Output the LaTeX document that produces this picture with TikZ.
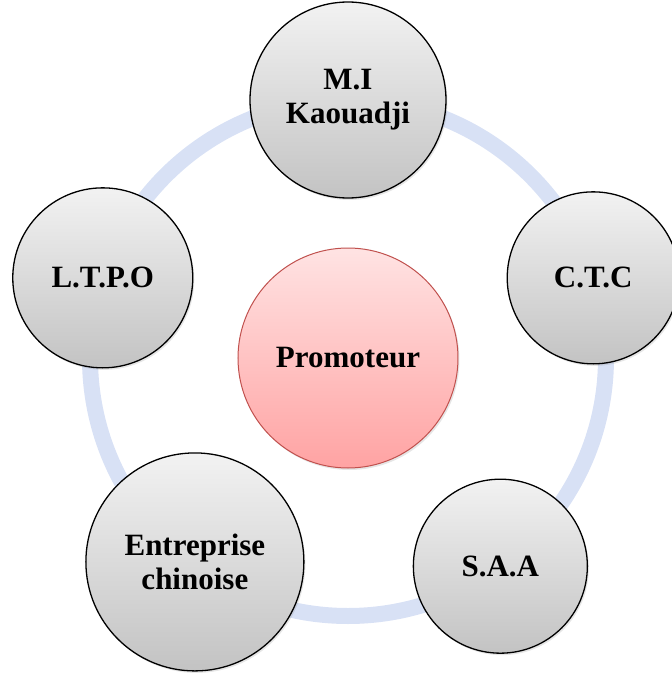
\documentclass[tikz,border=0pt]{standalone}
\usepackage{fontspec}
\setmainfont{Liberation Serif}
\usetikzlibrary{shadows}
\definecolor{cring}{HTML}{D8E1F5}
\definecolor{cgreytop}{HTML}{F2F2F2}
\definecolor{cgreybot}{HTML}{C3C3C3}
\definecolor{cpinktop}{HTML}{FFE3E3}
\definecolor{cpinkbot}{HTML}{FFA3A3}
\definecolor{cpinkline}{HTML}{C0504D}
\tikzset{
  every picture/.style={x=1pt, y=1pt},
  actor/.style={circle, draw=black, line width=1.3pt, top color=cgreytop, bottom color=cgreybot,
    align=center, inner sep=0pt, minimum size=#1, font=\fontsize{31}{34}\selectfont\bfseries,
    drop shadow={opacity=0.2, shadow xshift=1.5pt, shadow yshift=-2pt}},
  hub/.style={actor=#1, draw=cpinkline, line width=1pt, top color=cpinktop, bottom color=cpinkbot},
  ring/.style={draw=cring, line width=16pt},
}
\begin{document}
\begin{tikzpicture}
  \useasboundingbox (-348,-315) rectangle (324,358);
  \coordinate (c) at (0,0);
  \draw[ring] (c) circle (258);
  \node[hub=220] (prom) at (c) {Promoteur};
  \foreach \n/\a/\r/\d/\t in {mik/90/258/196/{M.I\\Kaouadji},
                              ctc/18.1/258/172/{C.T.C},
                              saa/-53.8/258/174/{S.A.A},
                              ent/-126.9/255/218/{Entreprise\\chinoise},
                              ltpo/161.9/258/180/{L.T.P.O}}
    { \node[actor=\d] (\n) at (\a:\r) {\t}; }
\end{tikzpicture}
\end{document}
